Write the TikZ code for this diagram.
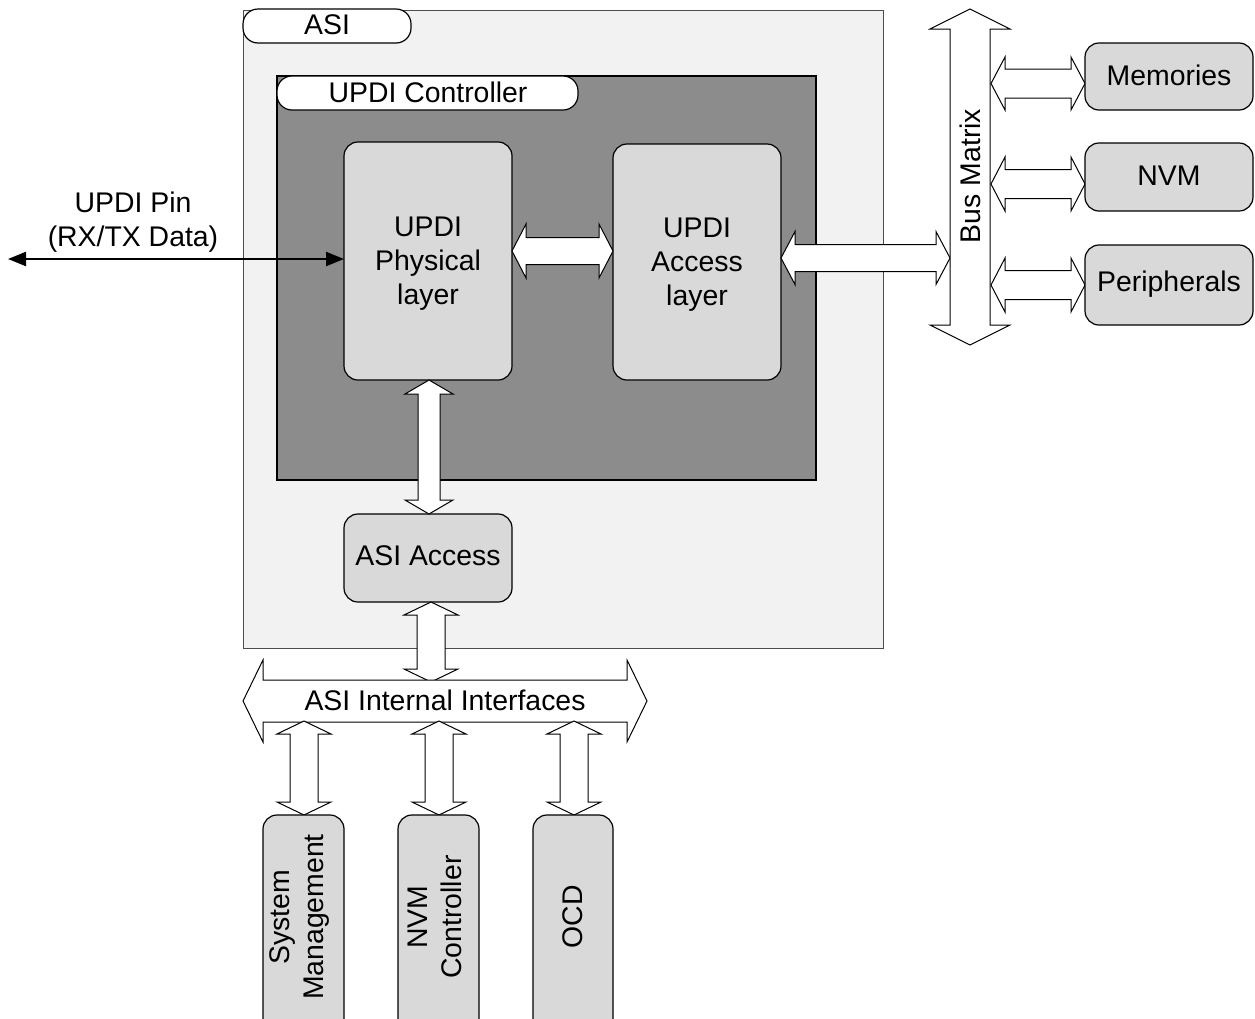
\documentclass[tikz,border=0pt]{standalone}
\usepackage{fontspec}
\setmainfont{Liberation Sans}
\usetikzlibrary{arrows.meta,calc}
\definecolor{asibg}{HTML}{F2F2F2}
\definecolor{ctrlbg}{HTML}{8C8C8C}
\definecolor{boxbg}{HTML}{D9D9D9}
\newcommand\hdblarrow[6]{%
\draw[blockarrow] (#1,#3) -- (#1+#6,#3-#5) -- (#1+#6,#3-#4) -- (#2-#6,#3-#4) -- (#2-#6,#3-#5) -- (#2,#3) -- (#2-#6,#3+#5) -- (#2-#6,#3+#4) -- (#1+#6,#3+#4) -- (#1+#6,#3+#5) -- cycle;}
\newcommand\vdblarrow[6]{%
\draw[blockarrow] (#3,#1) -- (#3-#5,#1+#6) -- (#3-#4,#1+#6) -- (#3-#4,#2-#6) -- (#3-#5,#2-#6) -- (#3,#2) -- (#3+#5,#2-#6) -- (#3+#4,#2-#6) -- (#3+#4,#1+#6) -- (#3+#5,#1+#6) -- cycle;}
\begin{document}
\begin{tikzpicture}[x=1pt,y=-1pt,
  every node/.style={font=\fontsize{28.4}{34}\selectfont, align=center, inner sep=0pt},
  blockarrow/.style={draw=black, fill=white, line width=1pt, line join=miter},
  frame/.style={draw=black, line width=1.2pt},
  labelbox/.style={draw=black, fill=white, line width=1.2pt, rounded corners=15pt},
  unitbox/.style={draw=black, fill=boxbg, line width=1.2pt, rounded corners=14pt}]
\clip (0,0) rectangle (1255,1018);
\fill[white] (0,0) rectangle (1255,1018);
% ASI outer block
\draw[draw=black!70, fill=asibg, line width=1pt] (243,10) rectangle (883,648);
\draw[labelbox] (243,9) rectangle (411,43);
\node (asilbl) at (327,25) {ASI};
% UPDI controller
\draw[frame, fill=ctrlbg] (277,76) rectangle (816,480);
\draw[labelbox] (277,76) rectangle (578,110);
\node (ctrllbl) at (428,92) {UPDI Controller};
% inner units
\draw[unitbox] (344,142) rectangle (512,380);
\node (phys) at (428,263.5) {UPDI\\Physical\\layer};
\draw[unitbox] (613,144) rectangle (781,380);
\node (acc) at (697,264.5) {UPDI\\Access\\layer};
\draw[unitbox] (344,514) rectangle (512,602);
\node (asiacc) at (428,556) {ASI Access};
% block arrows
\hdblarrow{512}{613}{251}{13.5}{27}{14}
\hdblarrow{781}{950}{258}{13.5}{26.5}{14}
\vdblarrow{380}{514}{429}{11}{24}{14}
\vdblarrow{602}{682}{431}{14}{27}{13}
% bus matrix
\vdblarrow{9}{345}{970}{20}{40}{20}
\node[rotate=90] (bus) at (970,176) {Bus Matrix};
\hdblarrow{991}{1085}{83.5}{14.5}{26.5}{14}
\hdblarrow{991}{1085}{184}{14.5}{27}{14}
\hdblarrow{991}{1085}{285}{14.5}{27}{14}
\draw[unitbox] (1085,43) rectangle (1253,110);
\node (mem) at (1169,75.5) {Memories};
\draw[unitbox] (1085,143) rectangle (1253,211);
\node (nvm) at (1169,176) {NVM};
\draw[unitbox] (1085,245) rectangle (1253,325);
\node (per) at (1169,284.5) {Peripherals};
% UPDI pin
\node (pin) at (133,222.5) {UPDI Pin\\(RX/TX Data)};
\coordinate (pinend) at (8,259);
\coordinate (physin) at (344,259);
\draw[line width=2.2pt, {Triangle[length=18pt,width=14pt]}-{Triangle[length=18pt,width=14pt]}] (pinend) -- (physin);
% ASI internal interfaces
\hdblarrow{243}{647}{701}{21}{41}{20}
\node (aii) at (445,700) {ASI Internal Interfaces};
\vdblarrow{721}{815}{304}{14}{27}{13}
\vdblarrow{721}{815}{439}{14}{27}{13}
\vdblarrow{721}{815}{574}{14}{27}{13}
% bottom units
\draw[unitbox] (263,815) rectangle (344,1040);
\node[rotate=90] (sysm) at (300,917) {System\\Management};
\draw[unitbox] (398,815) rectangle (479,1040);
\node[rotate=90] (nvmc) at (435,917) {NVM\\Controller};
\draw[unitbox] (533,815) rectangle (613,1040);
\node[rotate=90] (ocd) at (573,917) {OCD};
\end{tikzpicture}
\end{document}
